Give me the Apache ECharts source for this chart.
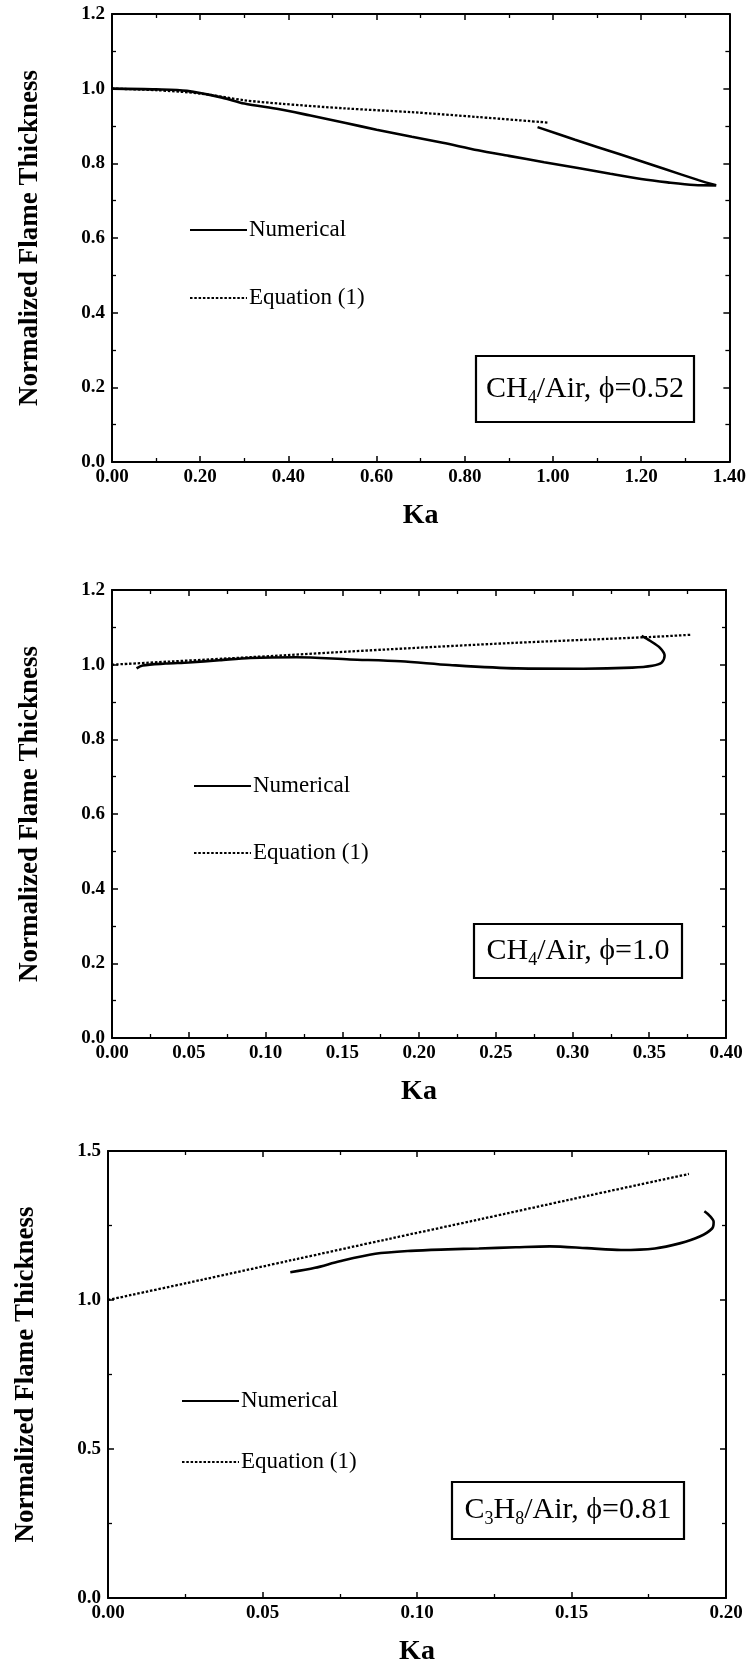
<!DOCTYPE html>
<html><head><meta charset="utf-8">
<script src="https://cdn.jsdelivr.net/npm/echarts@6/dist/echarts.min.js"></script>
<style>html,body{margin:0;padding:0;background:#fff}#c{width:749px;height:1669px}</style>
</head><body><div id="c"></div>
<script>
// ---------- data ----------
const X_NAME = 'Ka';
const Y_NAME = 'Normalized Flame Thickness';
const SERIES_NAMES = ['Numerical', 'Equation (1)'];

// Panel 1: CH4/Air, phi = 0.52
const ka1Num = [0, 0.1, 0.17, 0.25, 0.3, 0.38, 0.45, 0.53, 0.6, 0.68, 0.75, 0.83, 0.9, 0.98, 1.06, 1.13, 1.2, 1.26, 1.32, 1.37, 1.33, 1.25, 1.15, 1.05, 0.965];
const th1Num = [1.0, 0.998, 0.994, 0.976, 0.96, 0.945, 0.928, 0.908, 0.89, 0.871, 0.855, 0.835, 0.82, 0.803, 0.787, 0.772, 0.758, 0.749, 0.742, 0.741, 0.755, 0.786, 0.825, 0.863, 0.897];
const ka1Eq = [0, 0.1, 0.2, 0.3, 0.38, 0.53, 0.68, 0.83, 0.99];
const th1Eq = [1.0, 0.996, 0.987, 0.969, 0.96, 0.947, 0.937, 0.924, 0.909];

// Panel 2: CH4/Air, phi = 1.0
const ka2Num = [0.016, 0.02, 0.035, 0.05, 0.07, 0.09, 0.12, 0.155, 0.188, 0.22, 0.264, 0.307, 0.339, 0.352, 0.358, 0.36, 0.357, 0.3505, 0.345];
const th2Num = [0.99, 0.998, 1.003, 1.006, 1.012, 1.018, 1.02, 1.014, 1.009, 0.999, 0.99, 0.989, 0.992, 0.997, 1.005, 1.024, 1.045, 1.064, 1.077];
const ka2Eq = [0, 0.09, 0.18, 0.26, 0.35, 0.377];
const th2Eq = [1.0, 1.02, 1.041, 1.058, 1.074, 1.08];

// Panel 3: C3H8/Air, phi = 0.81
const ka3Num = [0.059, 0.067, 0.075, 0.0865, 0.098, 0.11, 0.12, 0.132, 0.143, 0.155, 0.166, 0.177, 0.185, 0.1915, 0.1955, 0.196, 0.1945, 0.193];
const th3Num = [1.093, 1.108, 1.13, 1.155, 1.165, 1.17, 1.173, 1.177, 1.18, 1.174, 1.168, 1.173, 1.19, 1.213, 1.24, 1.262, 1.285, 1.298];
const ka3Eq = [0, 0.03, 0.06, 0.09, 0.12, 0.15, 0.188];
const th3Eq = [1.0, 1.067, 1.135, 1.203, 1.27, 1.338, 1.423];

// axis ranges
const xMax = [1.4, 0.4, 0.2];
const xStep = [0.2, 0.05, 0.05];
const yMax = [1.2, 1.2, 1.5];
const yStep = [0.2, 0.2, 0.5];

// ---------- layout ----------
const GRIDS = [
  {left: 112, right: 18, top: 14, height: 448},
  {left: 112, right: 23, top: 590, height: 448},
  {left: 108, right: 23, top: 1151, height: 447}
];
const SERIF = '"Liberation Serif", "Times New Roman", "DejaVu Serif", serif';
const zip = (a, b) => a.map((v, i) => [v, b[i]]);

const chart = echarts.init(document.getElementById('c'), null, {renderer: 'canvas'});

const xAxis = [], yAxis = [], series = [];
const axisLine = {show: true, onZero: false, lineStyle: {color: '#000', width: 2}};
const tick = {show: true, inside: true, length: 6, lineStyle: {color: '#000', width: 1.5}};
const minor = {show: true, splitNumber: 2, length: 4, lineStyle: {color: '#000', width: 1.3}};

[0, 1, 2].forEach(g => {
  const common = {type: 'value', gridIndex: g, min: 0, splitLine: {show: false}, minorSplitLine: {show: false}, axisLine, axisTick: tick, minorTick: minor};
  xAxis.push(Object.assign({}, common, {
    max: xMax[g], interval: xStep[g], position: 'bottom',
    name: X_NAME, nameLocation: 'middle', nameGap: 40,
    nameTextStyle: {fontFamily: SERIF, fontWeight: 'bold', fontSize: 28, color: '#000'},
    axisLabel: {formatter: v => v.toFixed(2), fontFamily: SERIF, fontWeight: 'bold', fontSize: 19, color: '#000', margin: 6}
  }));
  xAxis.push(Object.assign({}, common, {max: xMax[g], interval: xStep[g], position: 'top', axisLabel: {show: false}}));
  yAxis.push(Object.assign({}, common, {
    max: yMax[g], interval: yStep[g], position: 'left',
    name: Y_NAME, nameLocation: 'middle', nameGap: 68, nameRotate: 90,
    nameTextStyle: {fontFamily: SERIF, fontWeight: 'bold', fontSize: 27, color: '#000'},
    axisLabel: {formatter: v => v.toFixed(1), fontFamily: SERIF, fontWeight: 'bold', fontSize: 19, color: '#000', margin: 7}
  }));
  yAxis.push(Object.assign({}, common, {max: yMax[g], interval: yStep[g], position: 'right', axisLabel: {show: false}}));
});

const panels = [[ka1Num, th1Num, ka1Eq, th1Eq], [ka2Num, th2Num, ka2Eq, th2Eq], [ka3Num, th3Num, ka3Eq, th3Eq]];
panels.forEach((p, g) => {
  series.push({
    name: SERIES_NAMES[0], type: 'line', xAxisIndex: 2 * g, yAxisIndex: 2 * g,
    data: zip(p[0], p[1]), showSymbol: false, smooth: 0.3, silent: true,
    lineStyle: {color: '#000', width: 2.6}
  });
  series.push({
    name: SERIES_NAMES[1], type: 'line', xAxisIndex: 2 * g, yAxisIndex: 2 * g,
    data: zip(p[2], p[3]), showSymbol: false, smooth: 0.3, silent: true,
    lineStyle: {color: '#000', width: 2.3, type: [2.5, 1.8]}
  });
});

// legend entries and condition boxes (pixel layout)
const LEGENDS = [
  {x: 190, y1: 230, y2: 298},
  {x: 194, y1: 786, y2: 853},
  {x: 182, y1: 1401, y2: 1462}
];
const BOXES = [
  {left: 476, top: 356, w: 218, h: 66, parts: ['CH', '4', '/Air, ϕ=0.52']},
  {left: 474, top: 924, w: 208, h: 54, parts: ['CH', '4', '/Air, ϕ=1.0']},
  {left: 452, top: 1482, w: 232, h: 57, parts: ['C', '3', 'H', '8', '/Air, ϕ=0.81']}
];
const graphic = [];
LEGENDS.forEach(L => {
  graphic.push({type: 'line', shape: {x1: L.x, y1: L.y1, x2: L.x + 57, y2: L.y1}, style: {stroke: '#000', lineWidth: 2.2}});
  graphic.push({type: 'text', x: L.x + 59, y: L.y1, style: {text: SERIES_NAMES[0], font: '23px ' + SERIF, fill: '#000', verticalAlign: 'middle'}});
  graphic.push({type: 'line', shape: {x1: L.x, y1: L.y2, x2: L.x + 57, y2: L.y2}, style: {stroke: '#000', lineWidth: 2, lineDash: [2.5, 1.8]}});
  graphic.push({type: 'text', x: L.x + 59, y: L.y2, style: {text: SERIES_NAMES[1], font: '23px ' + SERIF, fill: '#000', verticalAlign: 'middle'}});
});
BOXES.forEach(B => {
  graphic.push({type: 'rect', shape: {x: B.left, y: B.top, width: B.w, height: B.h}, style: {fill: '#fff', stroke: '#000', lineWidth: 2.2}});
  const txt = B.parts.map((s, i) => (i % 2 === 0 ? '{n|' + s + '}' : '{s|' + s + '}')).join('');
  graphic.push({type: 'text', x: B.left + B.w / 2, y: B.top + B.h / 2, z: 10, style: {
    text: txt, align: 'center', verticalAlign: 'middle',
    rich: {
      n: {fontFamily: SERIF, fontSize: 30, fill: '#000', lineHeight: 36, verticalAlign: 'middle'},
      s: {fontFamily: SERIF, fontSize: 18, fill: '#000', lineHeight: 36, verticalAlign: 'bottom'}
    }
  }});
});

chart.setOption({
  animation: false,
  backgroundColor: '#fff',
  grid: GRIDS.map(g => Object.assign({show: false}, g)),
  xAxis, yAxis, series, graphic
});
</script></body></html>
